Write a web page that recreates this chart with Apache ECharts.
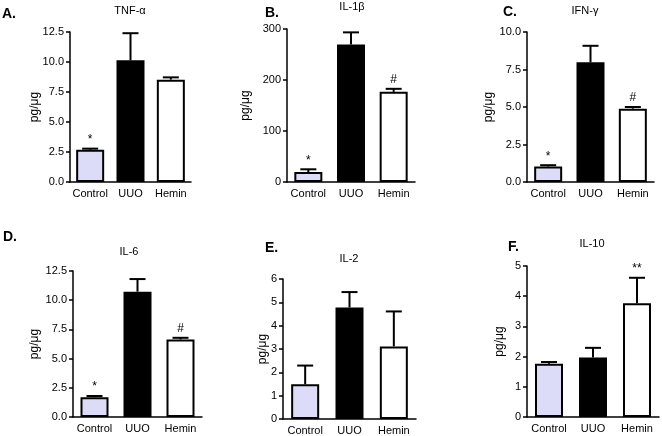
<!DOCTYPE html>
<html>
<head>
<meta charset="utf-8">
<script src="https://cdn.jsdelivr.net/npm/echarts@6/dist/echarts.min.js"></script>
<style>
html,body{margin:0;padding:0;background:#fff;}
#c{width:662px;height:436px;}
</style>
</head>
<body>
<div id="c"></div>
<script>
// ---- data ----
const categories = ['Control', 'UUO', 'Hemin'];

const tnfMean  = [2.69, 10.14, 8.53];
const tnfUpper = [2.78, 12.40, 8.72];
const tnfMarks = ['*', '', ''];

const il1bMean  = [19.6, 269.8, 176.8];
const il1bUpper = [24.9, 293.4, 182.7];
const il1bMarks = ['*', '', '#'];

const ifngMean  = [1.03, 7.98, 4.89];
const ifngUpper = [1.12, 9.08, 5.00];
const ifngMarks = ['*', '', '#'];

const il6Mean  = [1.69, 10.73, 6.64];
const il6Upper = [1.80, 11.81, 6.78];
const il6Marks = ['*', '', '#'];

const il2Mean  = [1.49, 4.78, 3.11];
const il2Upper = [2.29, 5.44, 4.61];
const il2Marks = ['', '', ''];

const il10Mean  = [1.76, 1.97, 3.77];
const il10Upper = [1.82, 2.29, 4.61];
const il10Marks = ['', '', '**'];

const panelTitles  = ['TNF-\u03b1', 'IL-1\u03b2', 'IFN-\u03b3', 'IL-6', 'IL-2', 'IL-10'];
const panelLetters = ['A.', 'B.', 'C.', 'D.', 'E.', 'F.'];
const yMax      = [12.5, 300, 10, 12.5, 6, 5];
const yInterval = [2.5, 100, 2.5, 2.5, 1, 1];
const yDecimals = [1, 0, 1, 1, 0, 0];
const yName = 'pg/\u03bcg';

// ---- styles / layout ----
const barFills = ['#dddcf8', '#000000', '#ffffff'];
const FONT = 'Liberation Sans, Arial, sans-serif';
const layout = [
  {grid:{left:70, top:32, width:121, height:150}, title:[130, 5], letter:[2, 7], nameGap:29},
  {grid:{left:287, top:29, width:128, height:153}, title:[352, 1], letter:[265, 6], nameGap:35},
  {grid:{left:527, top:32, width:127, height:150}, title:[585, 5], letter:[503, 5], nameGap:32},
  {grid:{left:73, top:271, width:129, height:146}, title:[129, 246], letter:[3, 230], nameGap:32},
  {grid:{left:283, top:279, width:133, height:140}, title:[349, 253], letter:[265, 241], nameGap:14},
  {grid:{left:527, top:266, width:132, height:151}, title:[592, 238], letter:[508, 240], nameGap:21}
];

const means  = [tnfMean, il1bMean, ifngMean, il6Mean, il2Mean, il10Mean];
const uppers = [tnfUpper, il1bUpper, ifngUpper, il6Upper, il2Upper, il10Upper];
const marks  = [tnfMarks, il1bMarks, ifngMarks, il6Marks, il2Marks, il10Marks];

const grids = [], xAxes = [], yAxes = [], series = [], titles = [];

layout.forEach((L, p) => {
  grids.push(Object.assign({outerBoundsMode: 'none', containLabel: false}, L.grid));
  xAxes.push({
    type: 'category', gridIndex: p, data: categories,
    axisLine: {lineStyle: {color: '#000', width: 1.5}},
    axisTick: {alignWithLabel: true, length: 4, lineStyle: {color: '#000', width: 1.5}},
    axisLabel: {color: '#000', fontSize: 11, fontFamily: FONT, margin: 6, interval: 0}
  });
  yAxes.push({
    type: 'value', gridIndex: p, min: 0, max: yMax[p], interval: yInterval[p],
    name: yName, nameLocation: 'middle', nameGap: L.nameGap, nameMoveOverlap: false,
    nameTextStyle: {color: '#000', fontSize: 12, fontFamily: FONT},
    axisLine: {show: true, lineStyle: {color: '#000', width: 1.5}},
    axisTick: {show: true, length: 4, lineStyle: {color: '#000', width: 1.5}},
    splitLine: {show: false},
    axisLabel: {color: '#000', fontSize: 11, fontFamily: FONT, margin: 6,
      formatter: v => Number(v).toFixed(yDecimals[p])}
  });
  series.push({
    type: 'bar', xAxisIndex: p, yAxisIndex: p, barWidth: 28,
    data: means[p].map((v, i) => ({value: v, itemStyle: {color: barFills[i]}})),
    itemStyle: {borderColor: '#000', borderWidth: 2},
    silent: true, animation: false
  });
  const mk = marks[p];
  series.push({
    type: 'custom', xAxisIndex: p, yAxisIndex: p, z: 5, animation: false, silent: true,
    data: means[p].map((v, i) => [i, v, uppers[p][i]]),
    encode: {x: 0, y: [1, 2]},
    renderItem: function (params, api) {
      const i = api.value(0);
      const base = api.coord([i, api.value(1)]);
      const top = api.coord([i, api.value(2)]);
      const children = [
        {type: 'line', shape: {x1: base[0], y1: base[1], x2: top[0], y2: top[1]},
          style: {stroke: '#000', lineWidth: 2}},
        {type: 'line', shape: {x1: top[0] - 8, y1: top[1], x2: top[0] + 8, y2: top[1]},
          style: {stroke: '#000', lineWidth: 2}}
      ];
      const m = mk[params.dataIndex];
      if (m) {
        children.push({type: 'text', x: top[0], y: top[1] - 3,
          style: {text: m, fill: '#000', fontSize: 12, fontFamily: FONT,
            align: 'center', verticalAlign: 'bottom'}});
      }
      return {type: 'group', children: children};
    }
  });
  titles.push({
    text: panelTitles[p], left: L.title[0], top: L.title[1], textAlign: 'center',
    textStyle: {color: '#000', fontSize: 11, fontWeight: 'normal', fontFamily: FONT}, padding: 0
  });
  titles.push({
    text: panelLetters[p], left: L.letter[0], top: L.letter[1],
    textStyle: {color: '#000', fontSize: 14, fontWeight: 'bold', fontFamily: FONT}, padding: 0
  });
});

const chart = echarts.init(document.getElementById('c'), null, {renderer: 'canvas'});
chart.setOption({
  animation: false,
  backgroundColor: '#fff',
  title: titles,
  grid: grids,
  xAxis: xAxes,
  yAxis: yAxes,
  series: series
});
</script>
</body>
</html>
